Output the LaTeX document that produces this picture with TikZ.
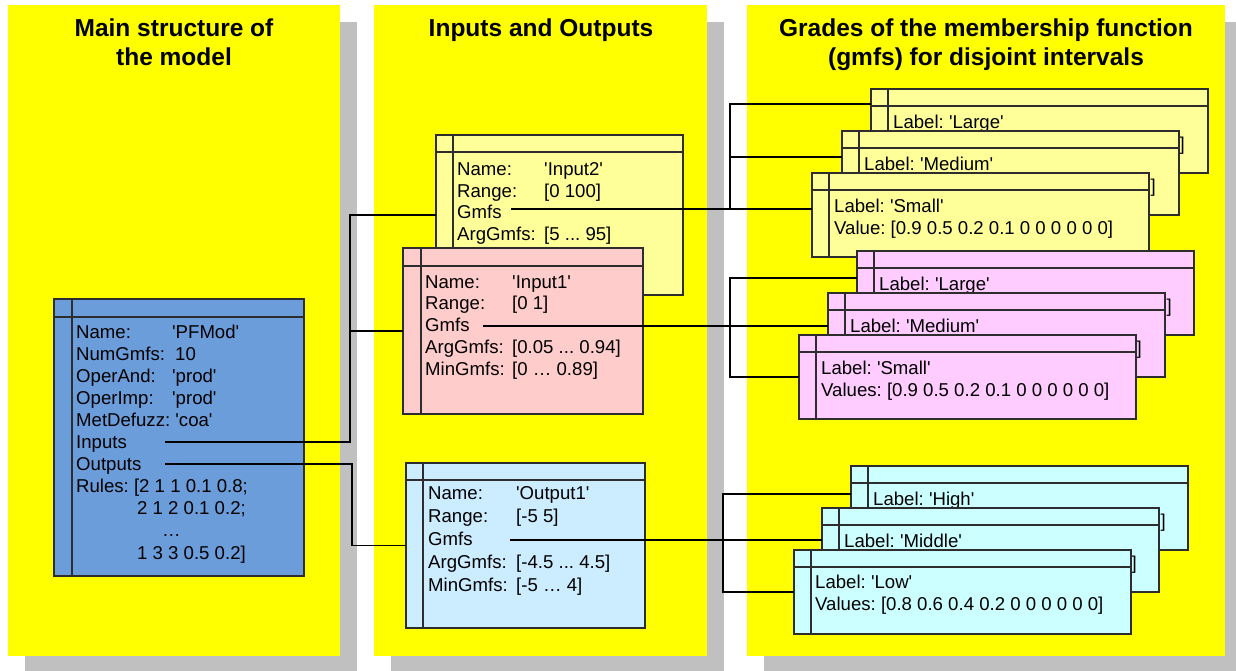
\documentclass[tikz,border=0pt]{standalone}
\usepackage{fontspec}
\setmainfont{Liberation Sans}
\frenchspacing
\definecolor{panelc}{RGB}{255,255,0}
\definecolor{shadowc}{RGB}{192,192,192}
\definecolor{bluebox}{RGB}{108,157,219}
\definecolor{ylbox}{RGB}{255,255,153}
\definecolor{pkbox}{RGB}{255,204,204}
\definecolor{lbbox}{RGB}{204,236,255}
\definecolor{mgbox}{RGB}{255,204,255}
\definecolor{cybox}{RGB}{204,255,255}
\definecolor{edgec}{RGB}{45,45,45}
\newcommand\sq{\textquotesingle}
\newcommand\umlrect[7]{%
  \node[umlbox, fill=#6, minimum width=#4pt, minimum height=#5pt] (#1) at (#2,#3) {};
  \draw[boxline] ([xshift=#7pt]#1.north west) -- ([xshift=#7pt]#1.south west);
  \draw[boxline] ([yshift=-#7pt]#1.north west) -- ([yshift=-#7pt]#1.north east);
}
\tikzset{
  panelbox/.style={fill=panelc, draw=none, inner sep=0, outer sep=0, anchor=north west},
  umlbox/.style={draw=edgec, line width=1.1pt, inner sep=0, outer sep=0, anchor=north west},
  boxline/.style={draw=edgec, line width=1.1pt},
  ttl/.style={font=\fontsize{24.5}{29}\selectfont\bfseries, inner sep=0, anchor=base},
  txt/.style={font=\fontsize{18.6}{22}\selectfont, inner sep=0, anchor=base west},
  hid/.style={font=\fontsize{18.6}{22}\selectfont, inner sep=0, anchor=base east},
  wire/.style={draw=black, line width=1.1pt},
}
\begin{document}
\begin{tikzpicture}[x=1pt,y=-1pt]
\useasboundingbox (0,0) rectangle (1236,670);
\clip (0,0) rectangle (1236,670);
\fill[white] (0,0) rectangle (1236,670);
% shadows
\fill[shadowc] (25,22) rectangle ++(332,651);
\fill[shadowc] (391,22) rectangle ++(333,651);
\fill[shadowc] (764,22) rectangle ++(478,651);
% panels
\node[panelbox, minimum width=332pt, minimum height=651pt] (pL) at (8,5) {};
\node[panelbox, minimum width=333pt, minimum height=651pt] (pM) at (374,5) {};
\node[panelbox, minimum width=478pt, minimum height=651pt] (pR) at (747,5) {};
% titles
\node[ttl] (tL1) at (174,36) {Main structure of};
\node[ttl] (tL2) at (174,65) {the model};
\node[ttl] (tM1) at (541,36) {Inputs and Outputs};
\node[ttl] (tR1) at (986,36) {Grades of the membership function};
\node[ttl] (tR2) at (986,65) {(gmfs) for disjoint intervals};

% main model box
\umlrect{model}{54}{299}{250}{277}{bluebox}{18}
\node[txt] (m1) at (76,338) {\makebox[96pt][l]{Name:}\sq PFMod\sq};
\node[txt] (m2) at (76,360) {\makebox[99pt][l]{NumGmfs:}10};
\node[txt] (m3) at (76,382) {\makebox[96pt][l]{OperAnd:}\sq prod\sq};
\node[txt] (m4) at (76,404) {\makebox[96pt][l]{OperImp:}\sq prod\sq};
\node[txt] (m5) at (76,426) {MetDefuzz: \sq coa\sq};
\node[txt] (m6) at (76,448) {Inputs};
\node[txt] (m7) at (76,470) {Outputs};
\node[txt] (m8) at (76,492.5) {Rules: [2 1 1 0.1 0.8;};
\node[txt] (m9) at (137,514.5) {2 1 2 0.1 0.2;};
\node[txt] (m10) at (162,536.5) {…};
\node[txt] (m11) at (137,559) {1 3 3 0.5 0.2]};

% Input2
\umlrect{in2}{436}{135}{247}{160}{ylbox}{17}
\node[txt] (i21) at (457,175.4) {\makebox[87pt][l]{Name:}\sq Input2\sq};
\node[txt] (i22) at (457,197) {\makebox[87pt][l]{Range:}[0 100]};
\node[txt] (i23) at (457,218.6) {Gmfs};
\node[txt] (i24) at (457,240.2) {\makebox[87pt][l]{ArgGmfs:}[5 ... 95]};
\node[txt] (i25) at (457,261.8) {\makebox[87pt][l]{MinGmfs:}[0 … 90]};
% Input1
\umlrect{in1}{403}{248}{240}{166}{pkbox}{18}
\node[txt] (i11) at (425,288) {\makebox[87pt][l]{Name:}\sq Input1\sq};
\node[txt] (i12) at (425,309.8) {\makebox[87pt][l]{Range:}[0 1]};
\node[txt] (i13) at (425,331.5) {Gmfs};
\node[txt] (i14) at (425,353.3) {\makebox[87pt][l]{ArgGmfs:}[0.05 ... 0.94]};
\node[txt] (i15) at (425,375) {\makebox[87pt][l]{MinGmfs:}[0 … 0.89]};
% Output1
\umlrect{out1}{406}{463}{239}{165}{lbbox}{17}
\node[txt] (o11) at (428,499) {\makebox[88pt][l]{Name:}\sq Output1\sq};
\node[txt] (o12) at (428,522) {\makebox[88pt][l]{Range:}[-5 5]};
\node[txt] (o13) at (428,545) {Gmfs};
\node[txt] (o14) at (428,568.5) {\makebox[88pt][l]{ArgGmfs:}[-4.5 ... 4.5]};
\node[txt] (o15) at (428,591.7) {\makebox[88pt][l]{MinGmfs:}[-5 … 4]};

% right stacks: yellow
\umlrect{yL}{871}{89}{337}{84}{ylbox}{17}
\node[txt] (yL1) at (893,128) {Label: \sq Large\sq};
\node[hid] (yL2) at (1185,150) {Values: [0 0 0 0 0 0.1 0.2 0.5 0.9 1.0]};
\umlrect{yM}{842}{131}{337}{84}{ylbox}{17}
\node[txt] (yM1) at (864,170) {Label: \sq Medium\sq};
\node[hid] (yM2) at (1156,192) {Values: [0 0 0.2 0.5 0.9 1.0 0.5 0 0 0]};
\umlrect{yS}{812}{173}{337}{84}{ylbox}{17}
\node[txt] (yS1) at (834,212) {Label: \sq Small\sq};
\node[txt] (yS2) at (834,234.5) {Value: [0.9 0.5 0.2 0.1 0 0 0 0 0 0]};
% pink
\umlrect{pL}{857}{251}{337}{84}{mgbox}{17}
\node[txt] (pL1) at (879,290) {Label: \sq Large\sq};
\node[hid] (pL2) at (1172,312) {Values: [0 0 0 0 0 0.1 0.2 0.5 0.9 1.0]};
\umlrect{pMd}{828}{293}{337}{84}{mgbox}{17}
\node[txt] (pM1) at (850,332) {Label: \sq Medium\sq};
\node[hid] (pM2) at (1142,354) {Values: [0 0 0.2 0.5 0.9 1.0 0.5 0 0 0]};
\umlrect{pS}{799}{335}{337}{84}{mgbox}{17}
\node[txt] (pS1) at (821,374) {Label: \sq Small\sq};
\node[txt] (pS2) at (821,396.5) {Values: [0.9 0.5 0.2 0.1 0 0 0 0 0 0]};
% cyan
\umlrect{cH}{851}{466}{337}{84}{cybox}{17}
\node[txt] (cH1) at (873,505) {Label: \sq High\sq};
\node[hid] (cH2) at (1166,527) {Values: [0 0 0 0 0 0.2 0.4 0.6 0.8 1.0]};
\umlrect{cM}{822}{508}{337}{84}{cybox}{17}
\node[txt] (cM1) at (844,547) {Label: \sq Middle\sq};
\node[hid] (cM2) at (1137,569) {Values: [0 0 0.2 0.6 1.0 0.6 0.2 0 0 0]};
\umlrect{cL}{794}{550}{337}{84}{cybox}{17}
\node[txt] (cL1) at (815,588) {Label: \sq Low\sq};
\node[txt] (cL2) at (815,610.5) {Values: [0.8 0.6 0.4 0.2 0 0 0 0 0 0]};

% connectors
\coordinate (inS) at (165,442);
\coordinate (jIn) at (350,442);
\coordinate (outS) at (165,464);
\coordinate (jOut) at (352,464);
\draw[wire] (inS) -- (jIn) |- (in2.west);
\draw[wire] (jIn) |- (in1.west);
\draw[wire] (outS) -- (jOut) |- (out1.west);

\coordinate (g2) at (511,209);
\coordinate (yv1) at (730,104);
\coordinate (yv2) at (730,157);
\coordinate (yv3) at (730,209);
\draw[wire] (g2) -- (g2 -| yS.west);
\draw[wire] (yv3) -- (yv1) -- (yv1 -| yL.west);
\draw[wire] (yv2) -- (yv2 -| yM.west);

\coordinate (g1) at (483,326);
\coordinate (pv1) at (730,278);
\coordinate (pv2) at (730,377);
\draw[wire] (g1) -- (g1 -| pMd.west);
\draw[wire] (pv2 -| pS.west) -- (pv2) -- (pv1) -- (pv1 -| pL.west);

\coordinate (go) at (510,540);
\coordinate (cv1) at (723,494);
\coordinate (cv2) at (723,592);
\draw[wire] (go) -- (go -| cM.west);
\draw[wire] (cv2 -| cL.west) -- (cv2) -- (cv1) -- (cv1 -| cH.west);
\end{tikzpicture}
\end{document}
